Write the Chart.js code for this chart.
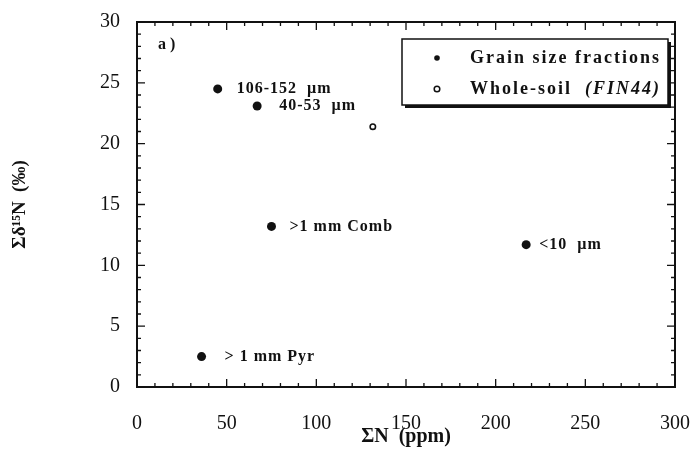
<!DOCTYPE html>
<html lang="en">
<head>
<meta charset="UTF-8">
<title>Sum d15N vs sum N</title>
<style>
  body { margin: 0; background: #fff; }
  #wrap { width: 693px; height: 454px; }
</style>
</head>
<body>
<div id="wrap"><canvas id="myChart" width="693" height="454"></canvas></div>
<script src="https://cdn.jsdelivr.net/npm/chart.js"></script>
<script>
// grain size fractions
const fracNames = ['106-152  \u00b5m', '40-53  \u00b5m', '>1 mm Comb', '<10  \u00b5m', '> 1 mm Pyr'];
const fracN = [45, 67, 75, 217, 36];
const fracD15 = [24.5, 23.1, 13.2, 11.7, 2.5];
// whole soil sample
const soilN = [131.5];
const soilD15 = [21.4];
// axis ranges
const xTicks = [0, 50, 100, 150, 200, 250, 300];
const yTicks = [0, 5, 10, 15, 20, 25, 30];

// how far right of each point its name starts (px)
const nameShift = [19, 22, 18, 13, 23];

const serif = "'Liberation Serif', 'DejaVu Serif', serif";
const ink = '#111';

// frame with inward tick marks on all four sides
const framePlugin = {
  id: 'frame',
  afterDatasetsDraw(chart) {
    const ctx = chart.ctx, a = chart.chartArea;
    const xs = chart.scales.x, ys = chart.scales.y;
    ctx.save();
    ctx.strokeStyle = ink;
    ctx.lineWidth = 2;
    ctx.strokeRect(a.left, a.top, a.right - a.left, a.bottom - a.top);
    ctx.lineWidth = 1.3;
    ctx.beginPath();
    for (let v = xTicks[0]; v <= xTicks[xTicks.length - 1]; v += 10) {
      const x = xs.getPixelForValue(v);
      const len = v % 50 === 0 ? 8 : 4;
      ctx.moveTo(x, a.bottom); ctx.lineTo(x, a.bottom - len);
      ctx.moveTo(x, a.top); ctx.lineTo(x, a.top + len);
    }
    for (let v = yTicks[0]; v <= yTicks[yTicks.length - 1]; v += 1) {
      const y = ys.getPixelForValue(v);
      const len = v % 5 === 0 ? 8 : 4;
      ctx.moveTo(a.left, y); ctx.lineTo(a.left + len, y);
      ctx.moveTo(a.right, y); ctx.lineTo(a.right - len, y);
    }
    ctx.stroke();

    // panel letter
    ctx.fillStyle = ink;
    ctx.font = 'bold 16px ' + serif;
    ctx.textBaseline = 'middle';
    ctx.fillText('a )', a.left + 21, a.top + 23);

    // names beside the fraction points
    const meta = chart.getDatasetMeta(0);
    ctx.font = 'bold 16px ' + serif;
    ctx.letterSpacing = '1px';
    meta.data.forEach((pt, i) => {
      ctx.fillText(fracNames[i], pt.x + nameShift[i], pt.y);
    });

    // legend box with drop shadow
    const bx = a.right - 273, by = a.top + 17, bw = 266, bh = 66;
    ctx.fillStyle = ink;
    ctx.fillRect(bx + 3, by + 3, bw, bh);
    ctx.fillStyle = '#fff';
    ctx.fillRect(bx, by, bw, bh);
    ctx.lineWidth = 1.5;
    ctx.strokeRect(bx, by, bw, bh);
    const rows = [by + 19, by + 50];
    ctx.letterSpacing = '2px';
    chart.data.datasets.forEach((ds, i) => {
      const cx = bx + 35, cy = rows[i];
      ctx.beginPath();
      ctx.arc(cx, cy, 2.8, 0, Math.PI * 2);
      if (i === 0) { ctx.fillStyle = ink; ctx.fill(); }
      else { ctx.lineWidth = 1.5; ctx.stroke(); }
      ctx.fillStyle = ink;
      // sample code in brackets is set in italics
      const parts = ds.label.split(/(\(.*\))/);
      let tx = bx + 68;
      parts.forEach(p => {
        if (!p) return;
        ctx.font = (p.startsWith('(') ? 'italic bold 18px ' : 'bold 18px ') + serif;
        ctx.fillText(p, tx, cy);
        tx += ctx.measureText(p).width;
      });
    });
    ctx.restore();
  }
};

new Chart(document.getElementById('myChart'), {
  type: 'scatter',
  data: {
    datasets: [{
      label: 'Grain size fractions',
      data: fracN.map((n, i) => ({ x: n, y: fracD15[i] })),
      pointRadius: 4.5,
      pointBackgroundColor: ink,
      pointBorderColor: ink,
      pointBorderWidth: 0
    }, {
      label: 'Whole-soil  (FIN44)',
      data: soilN.map((n, i) => ({ x: n, y: soilD15[i] })),
      pointRadius: 2.7,
      pointBackgroundColor: '#fff',
      pointBorderColor: ink,
      pointBorderWidth: 1.6
    }]
  },
  options: {
    responsive: false,
    animation: false,
    layout: { padding: { top: 22, right: 18, left: 0, bottom: 0 } },
    plugins: { legend: { display: false }, tooltip: { enabled: false } },
    scales: {
      x: {
        type: 'linear',
        min: xTicks[0], max: xTicks[xTicks.length - 1],
        afterBuildTicks: s => { s.ticks = xTicks.map(v => ({ value: v })); },
        afterFit: s => { s.height = 67; s.paddingLeft = 0; s.paddingRight = 0; },
        grid: { display: false, drawTicks: false },
        border: { display: false },
        ticks: { color: ink, padding: 25, font: { family: serif, size: 20 } },
        title: {
          display: true, text: '\u03a3N  (ppm)', color: ink,
          font: { family: serif, size: 20, weight: 'bold' },
          padding: { top: 0, bottom: 5 }
        }
      },
      y: {
        type: 'linear',
        min: yTicks[0], max: yTicks[yTicks.length - 1],
        afterBuildTicks: s => { s.ticks = yTicks.map(v => ({ value: v })); },
        afterFit: s => { s.width = 137; s.paddingTop = 0; s.paddingBottom = 0; },
        grid: { display: false, drawTicks: false },
        border: { display: false },
        ticks: { color: ink, padding: 17, font: { family: serif, size: 20 } },
        title: {
          display: true, text: '\u03a3\u03b4\u00b9\u2075N  (\u2030)', color: ink,
          font: { family: serif, size: 19, weight: 'bold' },
          padding: { top: 9, bottom: 0 }
        }
      }
    }
  },
  plugins: [framePlugin]
});
</script>
</body>
</html>
